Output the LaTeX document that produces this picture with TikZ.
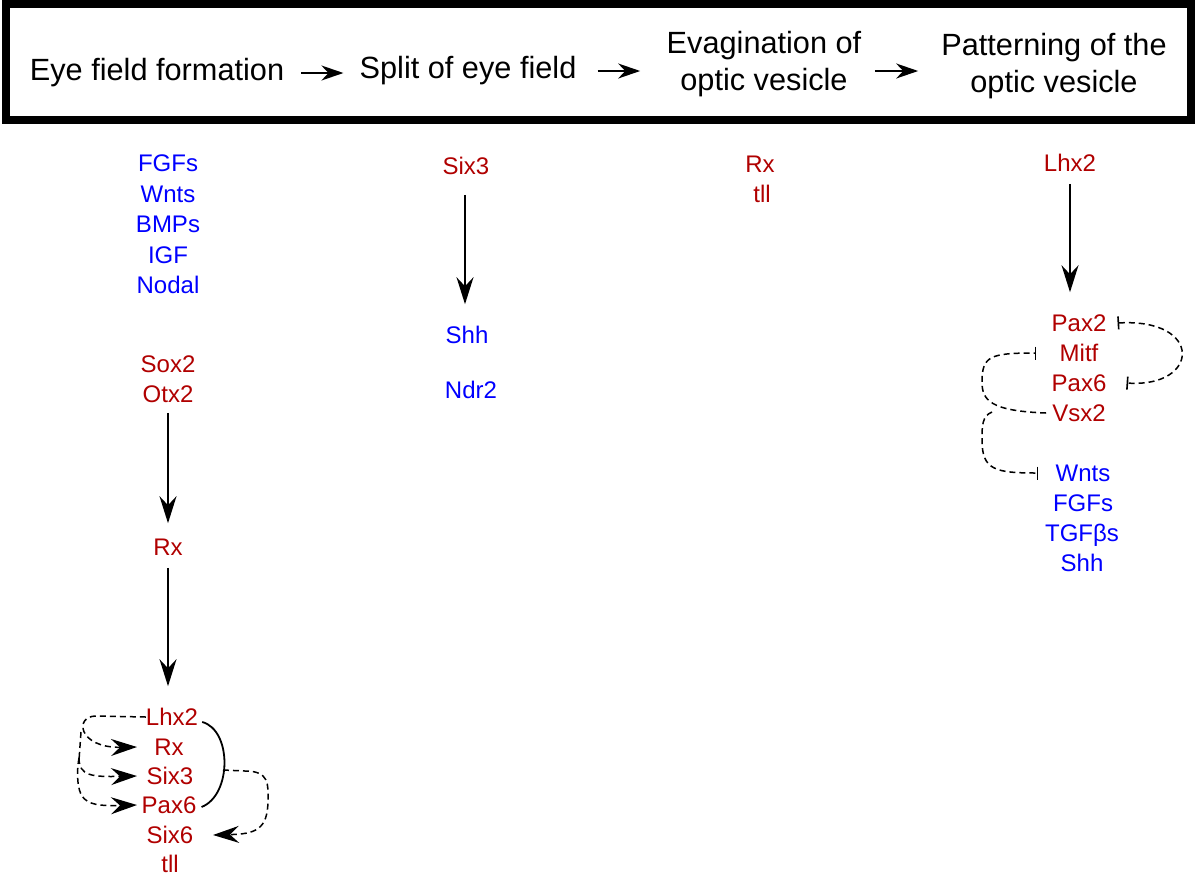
\documentclass[tikz,border=0pt]{standalone}
\usepackage{fontspec}
\setmainfont{Liberation Sans}
\usetikzlibrary{arrows.meta}
\definecolor{genered}{RGB}{176,0,0}
\definecolor{geneblue}{RGB}{0,0,255}
\tikzset{
  stage/.style={inner sep=0pt, font=\fontsize{30.7}{37}\selectfont, text height=22pt, text depth=0pt},
  gene/.style={inner sep=0pt, font=\fontsize{24}{24}\selectfont, text height=17.2pt, text depth=0pt},
  rg/.style={gene, text=genered},
  bg/.style={gene, text=geneblue},
  stagearrow/.style={line width=1.8pt, -{Stealth[length=22pt,width=15pt,inset=7pt]}},
  induce/.style={line width=1.8pt, -{Stealth[length=27pt,width=17pt,inset=9pt]}},
  dashlink/.style={line width=1.5pt, dash pattern=on 6pt off 4pt},
  dashinduce/.style={dashlink, -{Stealth[length=26pt,width=17pt,inset=9pt]}},
  inhibit/.style={dashlink, -{Bar[width=13pt,line width=1.6pt]}},
  inhibitboth/.style={dashlink, {Bar[width=13pt,line width=1.6pt]}-{Bar[width=13pt,line width=1.6pt]}},
}
\begin{document}
\begin{tikzpicture}[x=1pt,y=-1pt]
\useasboundingbox (0,0) rectangle (1196,884);

% header band with the four developmental stages
\draw[line width=8pt] (5.5,4) rectangle (1190.5,120);
\node[stage] (h1) at (157,69) {Eye field formation};
\node[stage] (h2) at (468,67) {Split of eye field};
\node[stage] (h3a) at (764,42) {Evagination of};
\node[stage] (h3b) at (764,79) {optic vesicle};
\node[stage] (h4a) at (1054,44) {Patterning of the};
\node[stage] (h4b) at (1054,81) {optic vesicle};
\draw[stagearrow] ([shift={(17,4)}]h1.east) -- ([shift={(-16,6)}]h2.west);
\draw[stagearrow] ([shift={(21,4)}]h2.east) -- ([shift={(-40,-8)}]h3b.west);
\draw[stagearrow] ([shift={(27,-8)}]h3b.east) -- ([shift={(-52,-10)}]h4b.west);

% stage 1: eye field formation
\node[bg] (c1fgf) at (168,163) {FGFs};
\node[bg] (c1wnt) at (168,194) {Wnts};
\node[bg] (c1bmp) at (168,224) {BMPs};
\node[bg] (c1igf) at (168,255) {IGF};
\node[bg] (c1nod) at (168,285) {Nodal};
\node[rg] (c1sox) at (168,364) {Sox2};
\node[rg] (c1otx) at (168,394) {Otx2};
\node[rg] (c1rx) at (168,547) {Rx};
\node[rg] (e1) at (172,717) {Lhx2};
\node[rg] (e2) at (169,747) {Rx};
\node[rg] (e3) at (170,776) {Six3};
\node[rg] (e4) at (169,805) {Pax6};
\node[rg] (e5) at (170,835) {Six6};
\node[rg] (e6) at (170,864) {tll};
\coordinate (tipx) at (137,0);
\coordinate (sixtip) at (213,0);

\draw[induce] ([shift={(0,10)}]c1otx.south) -- ([shift={(0,-15)}]c1rx.north);
\draw[induce] ([shift={(0,12)}]c1rx.south) -- ([shift={(0,-22)}]e1.north -| c1rx);

% feedback loops among the eye field transcription factors
\draw[dashinduce] (e1.west) -- (96,716) .. controls (74,716) and (78,748) .. (e2.west -| tipx);
\draw[dashlink] (81,732) -- (79,760);
\draw[dashinduce] (79,758) .. controls (79,776) and (92,777) .. (e3.west -| tipx);
\draw[dashinduce] (79,758) .. controls (76,775) and (78,790) .. (82,796)
      .. controls (88,805) and (100,806) .. (e4.west -| tipx);
\draw[line width=1.8pt] ([shift={(4,5)}]e1.east) .. controls (232,730) and (232,795) .. ([shift={(5,2)}]e4.east);
\draw[dashinduce] (223,770) -- (245,771) .. controls (270,771) and (268,785) .. (268,800)
      .. controls (268,830) and (255,834) .. (e5.east -| sixtip);

% stage 2: split of the eye field
\node[rg] (c2six) at (466,166) {Six3};
\node[bg] (c2shh) at (467,335) {Shh};
\node[bg] (c2ndr) at (471,390) {Ndr2};
\draw[induce] ([shift={(-1,20)}]c2six.south) -- ([shift={(-2,-22)}]c2shh.north);

% stage 3: evagination of the optic vesicle
\node[rg] (c3rx) at (760,164) {Rx};
\node[rg] (c3tll) at (762,194) {tll};

% stage 4: patterning of the optic vesicle
\node[rg] (c4lhx) at (1070,163) {Lhx2};
\node[rg] (p1) at (1079,323) {Pax2};
\node[rg] (p2) at (1079,353) {Mitf};
\node[rg] (p3) at (1079,383) {Pax6};
\node[rg] (p4) at (1079,413) {Vsx2};
\node[bg] (q1) at (1083,473) {Wnts};
\node[bg] (q2) at (1083,503) {FGFs};
\node[bg] (q3) at (1082,533) {TGFβs};
\node[bg] (q4) at (1082,563) {Shh};
\draw[induce] ([shift={(0,12)}]c4lhx.south) -- ([shift={(0,-22)}]p1.north -| c4lhx);

\draw[inhibitboth] ([xshift=11]p1.east) .. controls (1204,318) and (1200,388) .. ([xshift=20]p3.east);
\draw[inhibit] ([xshift=-6]p4.west) .. controls (990,411) and (982,400) .. (982,382)
      .. controls (982,356) and (990,353) .. ([xshift=-23]p2.west);
\draw[inhibit] (992,412) .. controls (982,416) and (982,426) .. (982,440)
      .. controls (982,470) and (995,473) .. ([xshift=-17]q1.west);
\end{tikzpicture}
\end{document}
